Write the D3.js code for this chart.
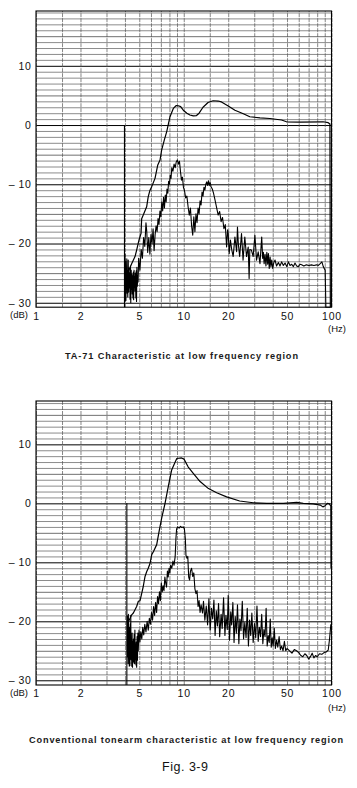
<!DOCTYPE html>
<html><head><meta charset="utf-8">
<script src="https://cdn.jsdelivr.net/npm/d3@7"></script>
<style>body{margin:0;background:#fff}svg{display:block}</style>
</head><body><svg id="c" width="357" height="788"></svg>
<script>
// ---------- data ----------
const freqTicks = [1, 2, 5, 10, 20, 50, 100];
const freqGrid = [1, 1.5, 2, 3, 4, 5, 6, 7, 8, 9, 10, 15, 20, 30, 40, 50, 60, 70, 80, 90, 100];
const dbTicks = [10, 0, -10, -20, -30];
const captions = ["TA-71 Characteristic at low frequency region",
                  "Conventional tonearm characteristic at low frequency region"];
const figTitle = "Fig. 3-9";
const sweepStart = [3.97, 4.12];

const ta71Upper = [[4.0,-26.5],[4.2,-24.8],[4.44,-23.4],[4.68,-22.2],[4.8,-21.1],[4.98,-19.4],[5.14,-18.3],[5.19,-15.8],[5.32,-15.2],[5.61,-13.8],[5.75,-12.1],[5.91,-11.0],[6.07,-10.4],[6.39,-9.0],[6.56,-7.6],[6.66,-6.8],[6.91,-5.9],[7.09,-4.2],[7.39,-2.5],[7.67,-1.1],[8.07,1.4],[8.5,2.8],[8.9,3.3],[9.2,3.25],[9.53,3.1],[9.93,2.5],[10.5,2.0],[11.0,1.7],[11.6,1.55],[12.2,1.6],[12.7,2.0],[13.5,3.0],[14.6,3.8],[15.8,4.1],[17.1,4.05],[18.0,3.9],[20.0,3.2],[22.2,2.5],[25.3,1.9],[28.0,1.4],[32.8,1.2],[38.3,1.1],[45.9,0.85],[49.6,0.55],[60.8,0.5],[87.6,0.55],[95,0.4],[97.6,0.17],[98.2,-30.75]];

const ta71Lower = [[3.98,-22.5],[3.99,-29.8],[4.0,-21.8],[4.02,-28.6],[4.04,-23],[4.06,-29.6],[4.08,-24],[4.1,-27],[4.12,-22.6],[4.14,-28.4],[4.16,-24.5],[4.18,-29],[4.21,-22.8],[4.23,-28.2],[4.26,-24.2],[4.28,-27.5],[4.31,-25],[4.33,-29.4],[4.36,-23.8],[4.38,-30],[4.41,-24.5],[4.43,-27.8],[4.46,-25.2],[4.48,-28.5],[4.51,-25.5],[4.53,-29.2],[4.56,-24.8],[4.58,-29.5],[4.61,-24.5],[4.63,-27.4],[4.66,-25.6],[4.68,-28],[4.71,-25],[4.74,-29.2],[4.77,-24.6],[4.79,-29.8],[4.82,-24],[4.85,-27.2],[4.88,-25.5],[4.91,-26.5],[4.95,-22.5],[5.05,-24.5],[5.15,-21],[5.25,-22.5],[5.35,-19],[5.45,-20.5],[5.55,-16.5],[5.62,-18],[5.7,-21.5],[5.8,-19],[5.9,-21.8],[6.0,-18.5],[6.1,-20],[6.2,-17.5],[6.3,-21.2],[6.4,-18.5],[6.5,-17],[6.6,-18],[6.7,-15.8],[6.8,-16.8],[6.9,-14.5],[7.0,-15.5],[7.1,-13],[7.2,-14.5],[7.3,-12.2],[7.4,-14],[7.5,-11.8],[7.6,-13],[7.7,-10.8],[7.8,-11.5],[7.9,-9.5],[8.0,-10],[8.1,-8.5],[8.2,-9],[8.3,-7.2],[8.45,-7.8],[8.6,-6.6],[8.75,-7.2],[8.9,-6.2],[9.05,-5.9],[9.2,-6.6],[9.35,-6.1],[9.5,-7.8],[9.65,-9.3],[9.8,-8.8],[9.95,-10.5],[10.1,-11],[10.3,-12.3],[10.5,-12],[10.7,-13.8],[10.9,-15.2],[11.1,-14],[11.3,-17],[11.5,-18.6],[11.7,-15.5],[11.9,-18],[12.1,-15],[12.3,-16.5],[12.5,-14],[12.7,-15],[12.9,-12.8],[13.1,-13.5],[13.3,-11.3],[13.5,-12],[13.7,-10.5],[13.9,-11],[14.1,-10],[14.3,-9.6],[14.5,-10.2],[14.7,-9.4],[14.9,-10.2],[15.1,-9.7],[15.3,-10.4],[15.6,-10.8],[15.9,-11.5],[16.3,-12.7],[16.7,-14],[17.1,-15.2],[17.5,-14.6],[17.9,-16.3],[18.3,-15.6],[18.7,-17.5],[19.1,-16.8],[19.5,-20.6],[19.8,-17.7],[20.0,-18.3],[20.3,-21.7],[20.7,-19.4],[21.1,-21],[21.6,-22.2],[22.2,-18.9],[22.8,-21.4],[23.1,-17.2],[23.4,-20],[23.9,-22.2],[24.6,-18.3],[25.2,-22.8],[25.9,-18.9],[26.6,-22.2],[27.3,-20.6],[27.7,-25.9],[28.0,-21],[28.7,-21.1],[29.5,-22.2],[30.3,-18.6],[31.1,-22.8],[31.9,-21.4],[32.8,-23.4],[33.7,-18.9],[34.2,-22.5],[34.6,-21.5],[35.0,-23.4],[35.5,-21.8],[36.0,-23.8],[36.5,-21.5],[37.0,-23.5],[37.4,-21.7],[37.9,-24.2],[38.4,-22.3],[38.9,-23.9],[39.4,-22.8],[40.0,-24.2],[40.7,-23.2],[41.5,-22.8],[42.5,-23.8],[43.7,-23.2],[44.8,-23.8],[46.0,-23.1],[47.2,-23.7],[48.5,-23.3],[49.8,-23.9],[51.1,-23.1],[52.4,-23.7],[53.8,-23.5],[55.2,-23.9],[56.6,-23.3],[58.1,-23.8],[59.6,-23.9],[61.2,-23.5],[62.8,-23.6],[65.0,-23.8],[67.6,-23.6],[70.3,-23.7],[73.1,-23.6],[76.0,-23.7],[79.2,-23.6],[81.5,-23.7],[83.9,-23.4],[86.1,-23.1],[88.0,-23.9],[90.6,-24.5],[91.6,-30.75],[98,-30.75]];

const convUpper = [[4.15,-20.5],[4.44,-18.9],[4.56,-18.6],[4.8,-17.5],[4.93,-16.6],[5.06,-16.5],[5.19,-15.3],[5.32,-14.1],[5.47,-12.4],[5.61,-11.6],[5.75,-11.0],[5.91,-10.2],[6.07,-8.7],[6.23,-8.2],[6.56,-7.0],[6.83,-4.6],[7.09,-2.5],[7.47,0],[7.85,2.8],[8.27,5.6],[8.6,6.6],[8.97,7.6],[9.67,7.7],[10.04,7.5],[10.7,6.2],[11.6,5.1],[12.9,3.7],[14.7,2.5],[16.7,1.8],[19.5,1.1],[23.9,0.4],[29.5,0.1],[36.5,0],[47.2,0],[58.2,0.17],[64.4,0],[75.1,-0.1],[83.9,-0.3],[87.4,-0.6],[90.6,-0.4],[93.8,0],[96.7,-0.1],[99,-0.5],[99.3,-11]];

const convLower = [[4.15,-19],[4.16,-26],[4.18,-20.2],[4.2,-27.2],[4.22,-18.8],[4.24,-25],[4.26,-22.4],[4.28,-27.6],[4.3,-21],[4.32,-27.5],[4.34,-20.4],[4.36,-26.2],[4.38,-19],[4.4,-26.5],[4.42,-23.2],[4.45,-27.6],[4.47,-22],[4.5,-27.8],[4.52,-23.4],[4.55,-26.8],[4.57,-23],[4.6,-27],[4.62,-22.2],[4.65,-27.2],[4.67,-21.5],[4.7,-26.5],[4.72,-23.8],[4.75,-27.4],[4.77,-23.5],[4.8,-27.8],[4.83,-22.6],[4.86,-26.6],[4.89,-22],[4.92,-25],[4.98,-21.5],[5.05,-23.5],[5.12,-21.8],[5.2,-23],[5.28,-21],[5.36,-22.3],[5.45,-20.5],[5.55,-21.8],[5.65,-20],[5.75,-21.5],[5.85,-19.5],[5.95,-20.5],[6.05,-18.5],[6.15,-19.8],[6.25,-17.5],[6.35,-19],[6.45,-16.8],[6.55,-18.5],[6.65,-15.8],[6.75,-17],[6.85,-15],[6.95,-16.5],[7.05,-13.5],[7.15,-15],[7.25,-14],[7.35,-14.8],[7.45,-12.5],[7.55,-13.5],[7.65,-14.2],[7.75,-11.5],[7.85,-12.5],[7.95,-11],[8.05,-11.8],[8.15,-10.5],[8.3,-11],[8.45,-9.8],[8.6,-10.5],[8.75,-9],[8.85,-6],[8.95,-4.3],[9.1,-4.0],[9.3,-4.2],[9.5,-3.9],[9.7,-4.1],[9.9,-4.0],[10.1,-4.3],[10.25,-6],[10.35,-8.8],[10.5,-9.3],[10.65,-9],[10.8,-12.5],[10.95,-13],[11.1,-11.5],[11.3,-11],[11.5,-12.4],[11.7,-11.8],[11.9,-14.5],[12.1,-15.3],[12.3,-14.8],[12.5,-17.5],[12.7,-16.5],[12.9,-18.5],[13.1,-17.2],[13.4,-18.6],[13.6,-16.6],[13.9,-19.8],[14.2,-17.4],[14.5,-20.6],[14.8,-16.2],[15.1,-21.5],[15.4,-17.8],[15.7,-19.6],[16.0,-16.4],[16.3,-22.4],[16.6,-18.2],[16.9,-20.8],[17.2,-17],[17.5,-22.6],[17.9,-18.8],[18.2,-21.2],[18.6,-16],[19.0,-22.4],[19.3,-19],[19.7,-21.4],[20.0,-15.6],[20.4,-23.2],[20.8,-18.4],[21.1,-20.6],[21.5,-16.8],[21.9,-23.6],[22.3,-19.2],[22.7,-22],[23.1,-17.2],[23.6,-23.8],[24.0,-19.6],[24.4,-21.6],[24.9,-16.6],[25.4,-23],[25.9,-20.2],[26.4,-22.8],[26.9,-17.8],[27.4,-24.2],[27.9,-19.8],[28.4,-22.4],[28.9,-18.6],[29.5,-23.6],[30.1,-20.4],[30.7,-22.8],[31.3,-17.4],[31.9,-23.4],[32.5,-21],[33.1,-22.6],[33.7,-18.8],[34.3,-23.8],[34.9,-21.4],[35.5,-22.6],[36.1,-17.8],[36.7,-24.2],[37.3,-22.4],[37.9,-23.6],[38.5,-19.6],[39.1,-24.4],[39.7,-22.8],[40.3,-24.2],[41,-21.2],[41.7,-24.6],[42.5,-23.2],[43.3,-24.4],[44.2,-22.6],[45.1,-24.8],[46,-24.2],[47,-25],[48,-23.4],[49,-25],[50,-24.6],[52,-25],[54,-25.4],[56,-24.8],[58,-25],[60,-25.3],[62,-25.8],[64,-26],[66,-25.5],[68,-25.8],[70,-26.4],[72,-26],[74,-25.4],[76,-26.2],[78,-25.8],[80,-26],[83,-25.5],[86,-25.6],[89,-25.3],[92,-25.2],[95,-24.9],[97,-23],[99,-20.5]];

// ---------- drawing ----------
const svg = d3.select("#c");
const FONT = "'Liberation Sans', Arial, sans-serif";

const charts = [
  {top: 11, bottom: 307.2, dbMax: 19.25, dbMin: -30.75, upper: ta71Upper, lower: ta71Lower,
   start: sweepStart[0], caption: captions[0], capY: 358.5, capX0: 65, capX1: 298, unitY: 331.5},
  {top: 401, bottom: 685, dbMax: 17.35, dbMin: -30.8, upper: convUpper, lower: convLower,
   start: sweepStart[1], caption: captions[1], capY: 743, capX0: 29, capX1: 343, unitY: 711}
];
const left = 36, right = 331.5;

charts.forEach(c => {
  const x = d3.scaleLog().domain([1, 100]).range([left, right]);
  const y = d3.scaleLinear().domain([c.dbMin, c.dbMax]).range([c.bottom, c.top]);
  const g = svg.append("g");
  const h = c.bottom - c.top, w = right - left;

  // horizontal grid (1 dB)
  const dbGrid = d3.range(Math.ceil(c.dbMin), Math.floor(c.dbMax) + 1);
  g.append("g").attr("transform", `translate(${left},0)`)
    .call(d3.axisLeft(y).tickValues(dbGrid).tickSize(-w).tickFormat(""))
    .call(a => a.select(".domain").remove())
    .call(a => a.selectAll(".tick line")
      .attr("stroke", d => d % 10 === 0 ? "#000" : (d % 5 === 0 ? "#333" : "#5a5a5a"))
      .attr("stroke-width", d => d % 10 === 0 ? 1 : 0.7));

  // vertical grid
  g.append("g").attr("transform", `translate(0,${c.bottom})`)
    .call(d3.axisBottom(x).tickValues(freqGrid).tickSize(-h).tickFormat(""))
    .call(a => a.select(".domain").remove())
    .call(a => a.selectAll(".tick line").attr("stroke", "#555").attr("stroke-width", 0.7)
      .attr("stroke-dasharray", "4,1"));

  // frame
  g.append("rect").attr("x", left).attr("y", c.top).attr("width", w).attr("height", h)
    .attr("fill", "none").attr("stroke", "#000").attr("stroke-width", 1.1);

  // y labels
  g.append("g").attr("transform", `translate(${left},0)`)
    .call(d3.axisLeft(y).tickValues(dbTicks).tickSize(0).tickPadding(4.5)
      .tickFormat(d => d < 0 ? "\u2013 " + Math.abs(d) : String(d)))
    .call(a => a.select(".domain").remove())
    .call(a => a.selectAll("text").attr("font-family", FONT).attr("font-size", 10.5)
      .attr("fill", "#111").attr("letter-spacing", 0.6));

  // x labels
  g.append("g").attr("transform", `translate(0,${c.bottom})`)
    .call(d3.axisBottom(x).tickValues(freqTicks).tickSize(0).tickPadding(5)
      .tickFormat(d3.format("d")))
    .call(a => a.select(".domain").remove())
    .call(a => a.selectAll("text").attr("font-family", FONT).attr("font-size", 10.5)
      .attr("fill", "#111").attr("letter-spacing", 0.8));

  g.append("text").attr("x", 10).attr("y", c.bottom + 11).text("(dB)")
    .attr("font-family", FONT).attr("font-size", 9.5).attr("fill", "#111");
  g.append("text").attr("x", 337).attr("y", c.unitY).attr("text-anchor", "middle").text("(Hz)")
    .attr("font-family", FONT).attr("font-size", 9.5).attr("fill", "#111");

  // sweep start marker
  g.append("line").attr("x1", x(c.start)).attr("x2", x(c.start))
    .attr("y1", y(0)).attr("y2", c.bottom).attr("stroke", "#000").attr("stroke-width", 1.1);

  const line = d3.line().x(d => x(d[0])).y(d => y(d[1]));
  g.append("path").datum(c.lower).attr("d", line).attr("fill", "none")
    .attr("stroke", "#000").attr("stroke-width", 1.1).attr("stroke-linejoin", "round");
  g.append("path").datum(c.upper).attr("d", line).attr("fill", "none")
    .attr("stroke", "#000").attr("stroke-width", 1.2).attr("stroke-linejoin", "round");

  // caption
  svg.append("text").attr("x", c.capX0).attr("y", c.capY).text(c.caption)
    .attr("textLength", c.capX1 - c.capX0).attr("lengthAdjust", "spacing")
    .attr("font-family", FONT).attr("font-weight", "bold").attr("font-size", 9.2).attr("fill", "#1a1a1a");
});

svg.append("text").attr("x", 162).attr("y", 770.5).text(figTitle)
  .attr("textLength", 46).attr("lengthAdjust", "spacing")
  .attr("font-family", FONT).attr("font-size", 12.5).attr("fill", "#111");
</script>
</body></html>
